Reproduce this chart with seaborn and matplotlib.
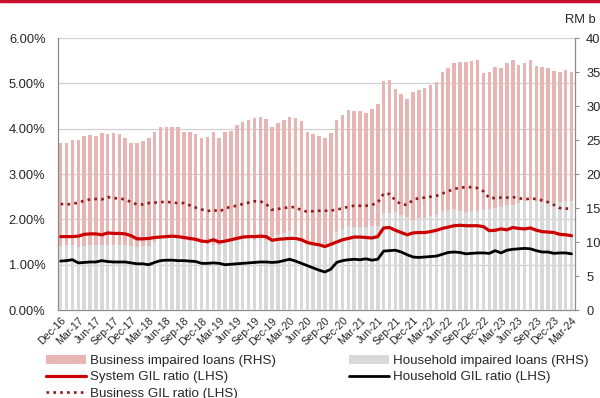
import numpy as np
import pandas as pd
import matplotlib
matplotlib.use("Agg")
import matplotlib.pyplot as plt
import seaborn as sns
from matplotlib.patches import Patch
from matplotlib.lines import Line2D
from matplotlib.ticker import FuncFormatter

# ---------------- data ----------------
months = pd.date_range("2016-12-01", periods=88, freq="MS").strftime("%b-%y").tolist()

household_il = [9.35, 9.5, 9.55, 9.2, 9.45, 9.5, 9.5, 9.6, 9.6, 9.6, 9.6, 9.5,
                9.35, 9.25, 9.35, 9.35, 10.0, 10.5, 10.6, 10.6, 10.45, 10.35, 10.1, 10.0,
                9.85, 9.7, 9.6, 9.6, 10.0, 10.1, 10.3, 10.45, 10.45, 10.35, 10.45, 10.35,
                10.8, 11.1, 11.3, 11.6, 11.1, 10.4, 10.1, 9.85, 9.6, 9.35, 9.35, 11.55,
                11.9, 12.4, 12.2, 12.2, 12.2, 12.4, 12.4, 14.2, 14.2, 14.4, 14.0, 13.7,
                13.3, 13.5, 13.6, 13.8, 14.0, 14.5, 14.7, 14.8, 14.6, 14.4, 14.5, 14.6,
                14.7, 14.8, 15.0, 15.1, 15.4, 15.5, 15.8, 16.1, 16.2, 16.1, 15.9, 15.8,
                15.7, 15.9, 16.0, 16.0]

business_il = [15.20, 15.05, 15.45, 15.80, 16.08, 16.18, 16.08, 16.47, 16.33, 16.47, 16.23, 15.79,
               15.20, 15.30, 15.50, 15.94, 16.17, 16.36, 16.26, 16.26, 16.51, 15.87, 16.12, 15.83,
               15.44, 15.69, 16.62, 15.69, 16.17, 16.27, 16.90, 17.19, 17.49, 17.88, 17.88, 17.73,
               16.16, 16.40, 16.64, 16.73, 17.13, 17.34, 16.12, 15.98, 15.98, 15.99, 16.72, 16.39,
               16.82, 17.06, 17.11, 17.11, 16.81, 17.20, 17.89, 19.52, 19.67, 18.10, 17.76, 17.37,
               18.80, 18.90, 19.04, 19.28, 19.53, 20.54, 20.83, 21.52, 21.91, 22.02, 22.16, 22.21,
               20.20, 20.24, 20.68, 20.43, 20.87, 21.26, 20.17, 20.17, 20.56, 19.73, 19.78, 19.73,
               19.49, 19.14, 19.29, 19.04]

system_gil = [1.62, 1.62, 1.62, 1.63, 1.67, 1.68, 1.68, 1.66, 1.70, 1.69, 1.69, 1.68,
              1.64, 1.57, 1.57, 1.58, 1.60, 1.61, 1.62, 1.63, 1.62, 1.60, 1.58, 1.56,
              1.52, 1.51, 1.55, 1.50, 1.52, 1.55, 1.58, 1.61, 1.62, 1.62, 1.63, 1.62,
              1.54, 1.56, 1.57, 1.58, 1.58, 1.55, 1.49, 1.46, 1.44, 1.40, 1.45, 1.50,
              1.55, 1.58, 1.61, 1.61, 1.60, 1.59, 1.62, 1.81, 1.82, 1.76, 1.71, 1.66,
              1.70, 1.71, 1.71, 1.73, 1.76, 1.80, 1.83, 1.86, 1.87, 1.86, 1.86, 1.86,
              1.84, 1.75, 1.76, 1.79, 1.77, 1.82, 1.80, 1.79, 1.81, 1.76, 1.73, 1.72,
              1.71, 1.67, 1.66, 1.64]

household_gil = [1.08, 1.09, 1.11, 1.04, 1.05, 1.06, 1.06, 1.09, 1.07, 1.06, 1.06, 1.06,
                 1.04, 1.02, 1.02, 1.00, 1.05, 1.09, 1.10, 1.10, 1.09, 1.09, 1.08, 1.07,
                 1.03, 1.03, 1.04, 1.03, 1.00, 1.01, 1.02, 1.03, 1.04, 1.05, 1.06, 1.06,
                 1.05, 1.06, 1.09, 1.12, 1.08, 1.03, 0.98, 0.93, 0.88, 0.84, 0.90, 1.05,
                 1.09, 1.11, 1.12, 1.11, 1.13, 1.10, 1.12, 1.30, 1.31, 1.32, 1.28, 1.22,
                 1.17, 1.16, 1.17, 1.18, 1.19, 1.23, 1.27, 1.28, 1.27, 1.24, 1.25, 1.26,
                 1.26, 1.25, 1.31, 1.26, 1.32, 1.34, 1.35, 1.36, 1.35, 1.31, 1.28, 1.28,
                 1.25, 1.26, 1.26, 1.24]

business_gil = [2.34, 2.33, 2.34, 2.37, 2.41, 2.44, 2.45, 2.44, 2.49, 2.47, 2.46, 2.44,
                2.38, 2.33, 2.33, 2.36, 2.37, 2.38, 2.39, 2.37, 2.36, 2.36, 2.31, 2.26,
                2.22, 2.18, 2.21, 2.17, 2.24, 2.28, 2.30, 2.34, 2.37, 2.40, 2.40, 2.34,
                2.21, 2.23, 2.25, 2.27, 2.27, 2.20, 2.17, 2.18, 2.19, 2.19, 2.19, 2.22,
                2.24, 2.28, 2.30, 2.30, 2.30, 2.32, 2.37, 2.57, 2.56, 2.42, 2.33, 2.32,
                2.43, 2.47, 2.48, 2.50, 2.52, 2.57, 2.62, 2.67, 2.70, 2.71, 2.71, 2.69,
                2.62, 2.47, 2.47, 2.48, 2.48, 2.49, 2.47, 2.44, 2.46, 2.45, 2.42, 2.38,
                2.32, 2.25, 2.24, 2.23]

tick_labels = months[::3]

legend_labels = ["Business impaired loans (RHS)", "System GIL ratio (LHS)",
                 "Business GIL ratio (LHS)", "Household impaired loans (RHS)",
                 "Household GIL ratio (LHS)"]

# ---------------- style ----------------
sns.set_theme(style="white")
plt.rcParams["font.family"] = ["Liberation Sans", "DejaVu Sans"]

PINK = "#E8B5B5"
GREY = "#D9D9D9"
RED = "#CC0000"
DARKRED = "#8E1B1B"
AXGREY = "#8C8C8C"

df = pd.DataFrame({"month": months, "household": household_il, "business": business_il,
                   "system_gil": system_gil, "household_gil": household_gil,
                   "business_gil": business_gil})
df["total"] = df["household"] + df["business"]
df["x"] = np.arange(len(df))

fig = plt.figure(figsize=(6, 3.98), dpi=100)
ax = fig.add_axes([0.0967, 0.221, 0.8617, 0.6834])

# gridlines (aligned with LHS percent ticks)
for k in range(1, 7):
    ax.axhline(k * 40 / 6, color="#D0D0D0", lw=0.9, zorder=0)

sns.barplot(data=df, x="month", y="total", color=PINK, saturation=1, width=0.6,
            ax=ax, zorder=2, linewidth=0)
sns.barplot(data=df, x="month", y="household", color=GREY, saturation=1, width=0.6,
            ax=ax, zorder=3, linewidth=0)

ax.set_ylim(0, 40)
ax.set_xlim(-0.45, 87.6)
ax.set_xlabel("")
ax.set_ylabel("")
ax.set_xticks(range(0, 88, 3))
ax.set_xticklabels(tick_labels, rotation=45, ha="right", rotation_mode="anchor", fontsize=7.7)
ax.set_xticks(np.arange(-0.5, 88, 3), minor=True)
ax.tick_params(axis="x", which="major", length=0, pad=4)
ax.tick_params(axis="x", which="minor", length=3.5, color=AXGREY, width=0.8, direction="out")
for s in ["left", "right", "bottom"]:
    ax.spines[s].set_color(AXGREY)
    ax.spines[s].set_linewidth(0.9)
ax.spines["top"].set_visible(False)

# ---------------- lines (LHS) ----------------
ax2 = ax.twinx()
sns.lineplot(data=df, x="x", y="system_gil", color=RED, lw=2.3, ax=ax2)
sns.lineplot(data=df, x="x", y="household_gil", color="black", lw=2.0, ax=ax2)
sns.lineplot(data=df, x="x", y="business_gil", color=DARKRED, lw=1.9, ax=ax2,
             linestyle=(0, (1, 1.6)))
ax2.set_ylim(0, 6)
ax2.set_xlim(-0.45, 87.6)
ax2.set_yticks(range(0, 7))
ax2.yaxis.tick_left()
ax2.yaxis.set_major_formatter(FuncFormatter(lambda v, p: f"{v:.2f}%"))
ax2.tick_params(axis="y", length=0, labelsize=9.3, pad=9)
ax2.set_xlabel("")
ax2.set_ylabel("")
for s in ax2.spines.values():
    s.set_visible(False)

# RHS axis (bars) — set after twinx, which moves ticks to the left
ax.yaxis.tick_right()
ax.set_yticks(range(0, 41, 5))
ax.tick_params(axis="y", which="major", left=False, right=True, labelleft=False,
               labelright=True, length=3, color=AXGREY, width=0.8,
               direction="out", labelsize=9.3, pad=5)

# ---------------- extras ----------------
fig.add_artist(Line2D([0, 1], [0.997, 0.997], color="#C8102E", lw=2.5,
                      transform=fig.transFigure))
fig.text(0.993, 0.950, "RM b", ha="right", va="center", fontsize=9.3)

handles = [Patch(facecolor=PINK, edgecolor="none"),
           Line2D([], [], color=RED, lw=2.3),
           Line2D([], [], color=DARKRED, lw=1.9, linestyle=(0, (1, 1.6))),
           Patch(facecolor=GREY, edgecolor="none"),
           Line2D([], [], color="black", lw=2.0)]
fig.legend(handles, legend_labels, loc="upper left", bbox_to_anchor=(0.076, 0.108),
           ncol=2, frameon=False, fontsize=9.6, handlelength=3.0, handleheight=0.6,
           columnspacing=5.5, labelspacing=0.33, handletextpad=0.3, borderaxespad=0,
           borderpad=0)

fig.savefig("out.png", dpi=100)
